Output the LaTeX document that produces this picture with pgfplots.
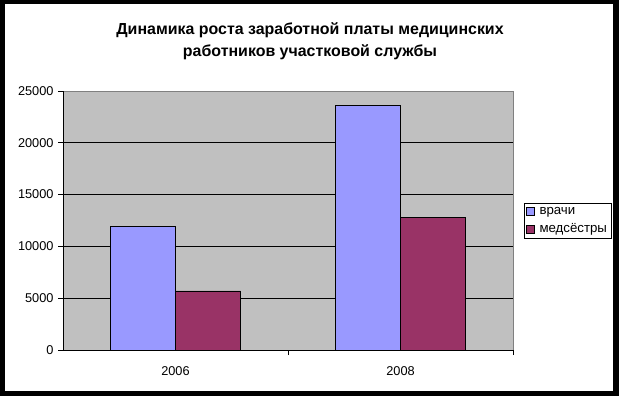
\documentclass[border=0pt]{standalone}
\usepackage{pgfplots}
\pgfplotsset{compat=1.18}
\usepackage{fontspec}
\setmainfont{Liberation Sans}
\definecolor{plotgray}{HTML}{C0C0C0}
\definecolor{barA}{HTML}{9999FF}
\definecolor{barB}{HTML}{993366}
\begin{document}
\begin{tikzpicture}[x=1bp,y=1bp]
\fill[black] (0,0) rectangle (619,396);
\fill[white] (5,5) rectangle (613,392);
\useasboundingbox (0,0) rectangle (619,396);
\node[font=\bfseries\fontsize{16}{22}\selectfont, align=center] at (310,355) {Динамика роста заработной платы медицинских\\работников участковой службы};
\begin{axis}[
  at={(63bp,46bp)}, anchor=south west,
  scale only axis, width=450bp, height=259bp,
  xmin=-0.5, xmax=1.5, ymin=0, ymax=25000,
  axis background/.style={fill=plotgray},
  axis line style={draw=gray, line width=0.8bp},
  tick pos=left,
  ybar=0pt, bar width=65bp,
  xtick={0,1}, xticklabels={2006,2008},
  major x tick style={draw=none},
  extra x ticks={0.5,1.5}, extra x tick labels={},
  extra x tick style={major tick length=5bp, tick align=outside, grid=none, major x tick style={draw=black, line width=0.8bp}},
  ytick={0,5000,...,20000},
  extra y ticks={25000},
  extra y tick style={grid=none},
  ymajorgrids, major grid style={black, line width=0.8bp},
  y tick style={draw=black, line width=0.8bp},
  tick align=outside, major tick length=5bp,
  /pgf/number format/assume math mode=true,
  /pgf/number format/1000 sep={},
  scaled y ticks=false,
  tick label style={font=\fontsize{12.8}{14}\selectfont},
  yticklabel style={xshift=-1bp},
  xticklabel style={yshift=-8bp},
  legend style={at={(1,0.5)}, anchor=west, xshift=11bp, draw=black, line width=0.8bp,
    font=\fontsize{13.3}{15}\selectfont, inner sep=2bp, row sep=4bp,
    legend cell align=left,
    /tikz/every odd column/.append style={column sep=2.5bp}},
  legend image code/.code={\draw[#1,draw=black,line width=0.6bp] (0bp,-4bp) rectangle (8bp,4bp);},
  after end axis/.code={
    \draw[black, line width=0.8bp] (rel axis cs:0,0) -- (rel axis cs:1,0);
    \draw[black, line width=0.8bp] (rel axis cs:0,0) -- (rel axis cs:0,1);
  },
]
\addplot[fill=barA, draw=black, line width=0.8bp] coordinates {(0,11900) (1,23600)};
\addplot[fill=barB, draw=black, line width=0.8bp] coordinates {(0,5700) (1,12800)};
\legend{врачи, медсёстры}
\end{axis}
\end{tikzpicture}
\end{document}
